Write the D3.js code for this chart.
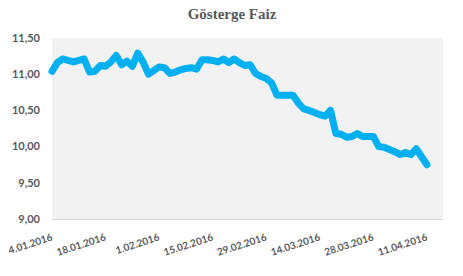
<!DOCTYPE html>
<html>
<head>
<meta charset="utf-8">
<script src="https://cdn.jsdelivr.net/npm/d3@7"></script>
<style>
    body { margin: 0; background: #fff; }
    svg { display: block; }
</style>
</head>
<body>
<div id="chart"></div>
<script>
// Gösterge faiz, business days from 4.01.2016
const startDate = new Date(2016, 0, 4);
const endDate = new Date(2016, 3, 15);   // axis runs to 14.04.2016

const rates = [
    11.04, 11.16, 11.21, 11.19, 11.17, 11.19, 11.21, 11.03, 11.04, 11.12,
    11.11, 11.17, 11.26, 11.13, 11.18, 11.11, 11.29, 11.17, 11.00, 11.05,
    11.10, 11.09, 11.01, 11.03, 11.06, 11.08, 11.09, 11.07, 11.20, 11.20,
    11.19, 11.17, 11.21, 11.16, 11.21, 11.16, 11.12, 11.13, 11.01, 10.97,
    10.94, 10.88, 10.71, 10.71, 10.71, 10.71, 10.60, 10.52, 10.50, 10.47,
    10.44, 10.42, 10.50, 10.18, 10.17, 10.13, 10.14, 10.18, 10.14, 10.14,
    10.14, 10.00, 9.99, 9.96, 9.93, 9.89, 9.92, 9.89, 9.97, 9.86,
    9.75
];

const yTicks = [9.0, 9.5, 10.0, 10.5, 11.0, 11.5];

const width = 463, height = 276;
const margin = { top: 38, right: 20, bottom: 57, left: 52 };

// category axis: weekdays only
const days = d3.timeDay.range(startDate, endDate).filter(d => d.getDay() !== 0 && d.getDay() !== 6);
const fmtDate = d3.timeFormat('%-d.%m.%Y');
const fmtNum = d => d.toFixed(2).replace('.', ',');

const svg = d3.select('#chart')
    .append('svg')
    .attr('width', width)
    .attr('height', height);

const x = d3.scalePoint()
    .domain(d3.range(days.length))
    .range([margin.left, width - margin.right]);

const y = d3.scaleLinear()
    .domain([9, 11.5])
    .range([height - margin.bottom, margin.top]);

svg.append('rect')
    .attr('x', margin.left)
    .attr('y', margin.top)
    .attr('width', width - margin.right - margin.left)
    .attr('height', height - margin.bottom - margin.top)
    .attr('fill', '#f2f2f2');

svg.append('text')
    .attr('x', 232)
    .attr('y', 19)
    .attr('text-anchor', 'middle')
    .style('font-family', '"Liberation Serif", "Times New Roman", serif')
    .style('font-weight', 'bold')
    .style('font-size', '15px')
    .style('fill', '#595959')
    .text('Gösterge Faiz');

// y labels
svg.selectAll('.ylab')
    .data(yTicks)
    .enter()
    .append('text')
    .attr('class', 'ylab')
    .attr('x', 40)
    .attr('y', d => y(d))
    .attr('dy', '0.35em')
    .attr('text-anchor', 'end')
    .style('font-family', 'Lato, sans-serif')
    .style('font-weight', 'bold')
    .style('font-size', '11px')
    .style('fill', '#595959')
    .text(fmtNum);

// x axis line
const xAxis = d3.axisBottom(x)
    .tickValues(d3.range(0, days.length, 10))
    .tickSize(0)
    .tickFormat('');

svg.append('g')
    .attr('transform', `translate(0,${height - margin.bottom})`)
    .call(xAxis)
    .call(g => g.select('.domain').attr('stroke', '#d9d9d9').attr('d', `M${margin.left},0.5H${width - margin.right}`));

svg.selectAll('.xlab')
    .data(d3.range(0, days.length, 10))
    .enter()
    .append('text')
    .attr('class', 'xlab')
    .attr('transform', d => `translate(${x(d) + 1},240) rotate(-18)`)
    .attr('text-anchor', 'end')
    .style('font-family', 'Lato, sans-serif')
    .style('font-weight', 'bold')
    .style('font-size', '10px')
    .style('fill', '#595959')
    .text(d => fmtDate(days[d]));

const line = d3.line()
    .x((d, i) => x(i))
    .y(d => y(d));

svg.append('path')
    .datum(rates)
    .attr('d', line)
    .attr('fill', 'none')
    .attr('stroke', '#00b0f0')
    .attr('stroke-width', 7)
    .attr('stroke-linejoin', 'round')
    .attr('stroke-linecap', 'round');
</script>
</body>
</html>
